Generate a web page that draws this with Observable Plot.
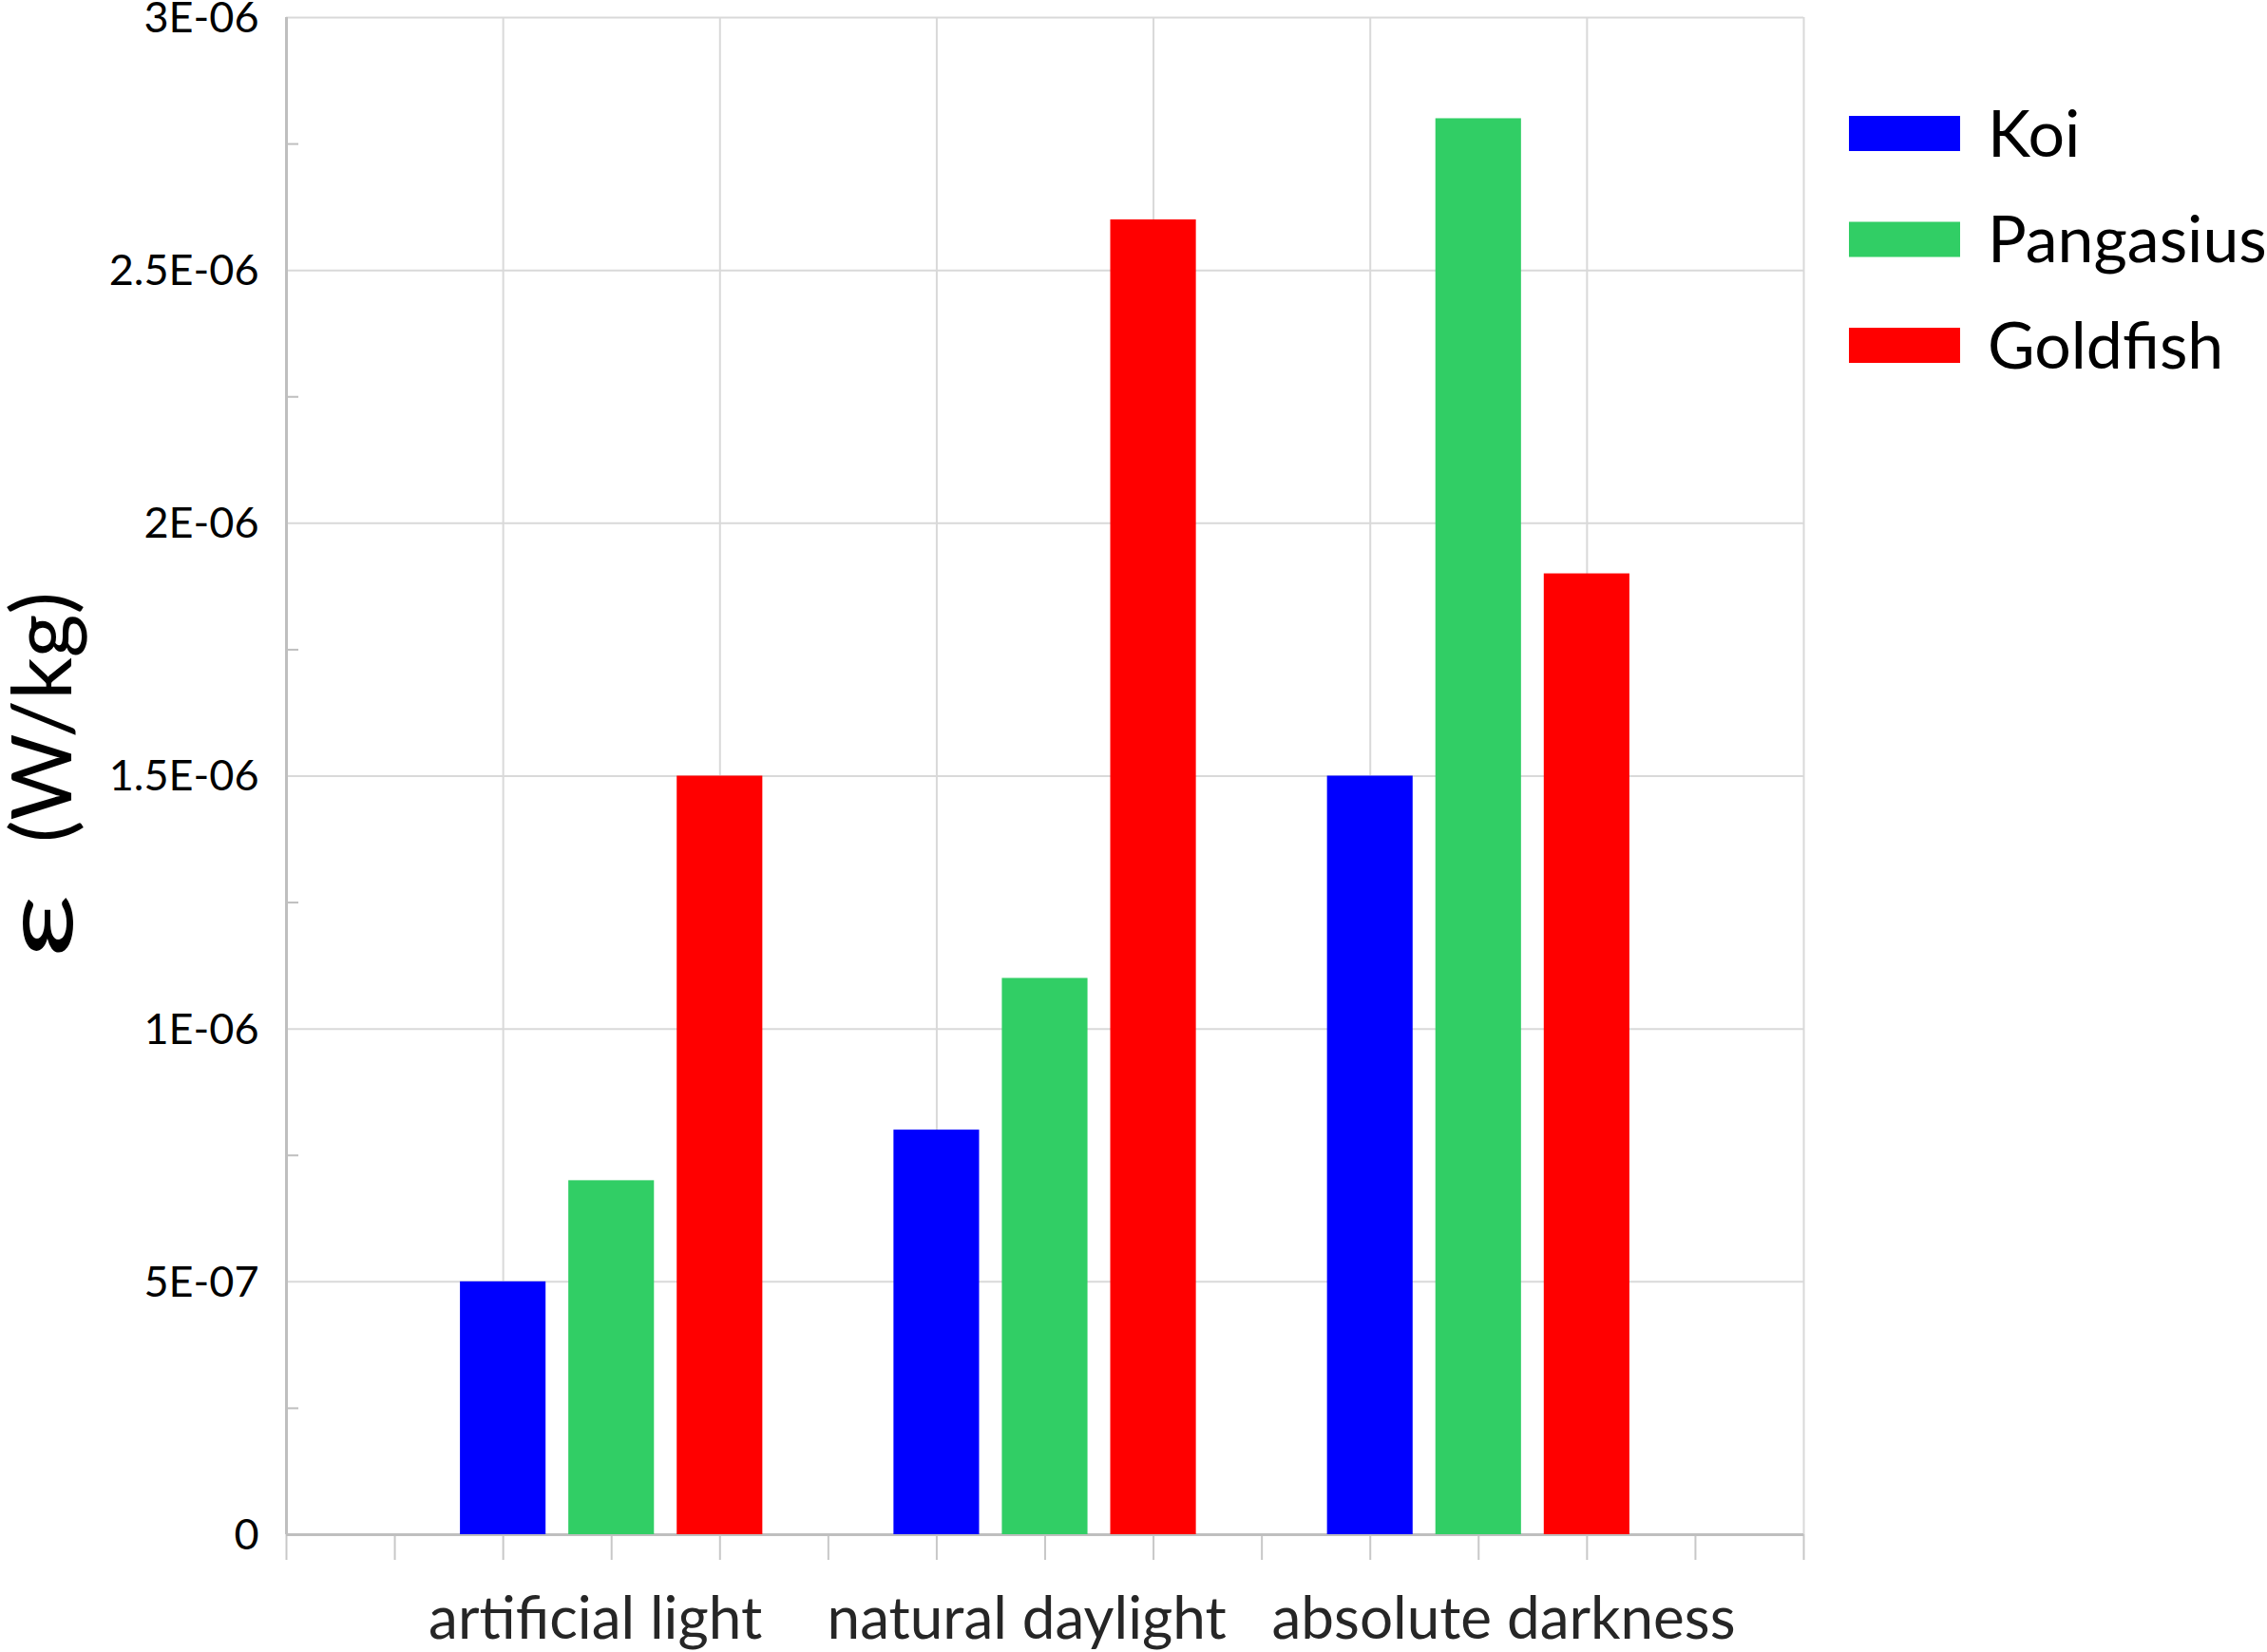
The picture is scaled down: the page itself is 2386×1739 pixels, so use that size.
<!DOCTYPE html>
<html>
<head>
<meta charset="utf-8">
<script src="https://cdn.jsdelivr.net/npm/d3@7"></script>
<script src="https://cdn.jsdelivr.net/npm/@observablehq/plot@0.6"></script>
<style>
  html, body { margin: 0; padding: 0; background: #fff; }
  svg { display: block; }
</style>
</head>
<body>
<div id="chart"></div>
<script>
// ---- data ----
const categories = ["artificial light", "natural daylight", "absolute darkness"];
const series = ["Koi", "Pangasius", "Goldfish"];
const koi = [5e-7, 8e-7, 1.5e-6];
const pangasius = [7e-7, 1.1e-6, 2.8e-6];
const goldfish = [1.5e-6, 2.6e-6, 1.9e-6];
const yTicks = [0, 5e-7, 1e-6, 1.5e-6, 2e-6, 2.5e-6, 3e-6];
const yTickLabels = ["0", "5E-07", "1E-06", "1.5E-06", "2E-06", "2.5E-06", "3E-06"];
const yMinorTicks = [2.5e-7, 7.5e-7, 1.25e-6, 1.75e-6, 2.25e-6, 2.75e-6];
const xTicks = d3.range(0, 15);
const xGrid = [2, 4, 6, 8, 10, 12, 14];
const yAxisTitle = "(W/kg)";
const yAxisSymbol = "ε";

// ---- styles ----
const seriesColors = ["#0000ff", "#31ce65", "#ff0000"];
const values = [koi, pangasius, goldfish];
const labelShift = [-0.15, -0.17, 0.23];

const rows = [];
categories.forEach((c, g) => {
  series.forEach((s, k) => {
    rows.push({category: c, series: s, value: values[k][g], pos: 2 + 4 * g + k});
  });
});
const labelFor = new Map(yTicks.map((t, i) => [t, yTickLabels[i]]));
const half = 0.395;

const chart = Plot.plot({
  width: 2386,
  height: 1739,
  marginLeft: 301,
  marginRight: 488,
  marginTop: 18,
  marginBottom: 124,
  style: {fontFamily: "Lato, 'Open Sans', sans-serif", background: "#fff", overflow: "visible"},
  x: {domain: [0, 14]},
  y: {domain: [0, 3e-6]},
  color: {domain: series, range: seriesColors},
  marks: [
    Plot.ruleY(yTicks.slice(1), {stroke: "#d9d9d9", strokeWidth: 2}),
    Plot.ruleX(xGrid, {stroke: "#d9d9d9", strokeWidth: 2}),
    Plot.axisX({ticks: xTicks, tickSize: 27, tickFormat: () => "", label: null, stroke: "#c8c8c8", strokeWidth: 2}),
    Plot.axisY({ticks: yMinorTicks, tickSize: 13, dx: 13, tickFormat: () => "", label: null, stroke: "#bfbfbf", strokeWidth: 2}),
    Plot.axisY({ticks: yTicks, tickSize: 0, tickPadding: 29, tickFormat: d => labelFor.get(d), label: null, fontSize: 45, fill: "#000", dy: 1}),
    Plot.ruleX([0], {stroke: "#bfbfbf", strokeWidth: 3}),
    Plot.ruleY([0], {stroke: "#bfbfbf", strokeWidth: 3}),
    Plot.rectY(rows, {x1: d => d.pos - half, x2: d => d.pos + half, y: "value", fill: "series"}),
    Plot.text(categories, {x: (d, i) => 3 + 4 * i + labelShift[i], y: () => 0, text: d => d, dy: 90, fontSize: 62, fill: "#262626", textAnchor: "middle"})
  ]
});
document.getElementById("chart").appendChild(chart);

// ---- legend and axis title ----
const svg = d3.select(chart);
const lg = svg.append("g").attr("font-family", "Lato, 'Open Sans', sans-serif").attr("text-anchor", "start");
series.forEach((s, i) => {
  const top = 122 + i * 111.5;
  lg.append("rect").attr("x", 1946).attr("y", top).attr("width", 117).attr("height", 37).attr("fill", seriesColors[i]);
  lg.append("text").attr("x", 2092).attr("y", top + 18.5).attr("dy", "0.36em")
    .attr("text-anchor", "start")
    .attr("font-size", 68).attr("fill", "#000").text(s);
});
svg.append("text")
  .attr("transform", "translate(76,975) rotate(-90) scale(1.5,1)")
  .attr("text-anchor", "middle").attr("font-family", "Lato, sans-serif")
  .attr("font-size", 100).attr("fill", "#000").text(yAxisSymbol);
svg.append("text")
  .attr("transform", "translate(75,755) rotate(-90)")
  .attr("text-anchor", "middle").attr("font-family", "Lato, sans-serif")
  .attr("font-size", 88).attr("fill", "#000").text(yAxisTitle);
</script>
</body>
</html>
